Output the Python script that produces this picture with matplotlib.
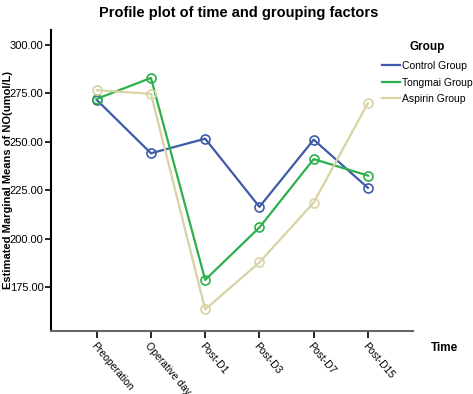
import matplotlib.pyplot as plt
from matplotlib.lines import Line2D

plt.rcParams['font.family'] = ['Liberation Sans', 'DejaVu Sans']

times = ["Preoperation", "Operative day", "Post-D1", "Post-D3", "Post-D7", "Post-D15"]
groups = ["Control Group", "Tongmai Group", "Aspirin Group"]
control = [271.5, 244.0, 251.5, 216.4, 251.0, 226.2]
tongmai = [272.0, 282.8, 178.8, 205.8, 241.0, 232.5]
aspirin = [276.5, 274.6, 163.6, 187.8, 218.6, 269.8]
colors = ["#3f5aa8", "#2db04b", "#d8d2a4"]
yticks = [175, 200, 225, 250, 275, 300]

fig = plt.figure(figsize=(4.73, 3.94), dpi=100)
ax = fig.add_axes([0.107, 0.16, 0.766, 0.764])

x = list(range(len(times)))
handles = []
for vals, name, c in zip([control, tongmai, aspirin], groups, colors):
    ax.plot(x, vals, color=c, lw=1.6, marker="o", ms=6.5, mfc="none", mec=c, mew=1.2)
    handles.append(Line2D([], [], color=c, lw=1.6))

ax.set_xlim(-0.85, 5.83)
ax.set_ylim(152.5, 307.5)
ax.set_yticks(yticks)
ax.set_yticklabels(["%.2f" % v for v in yticks], fontsize=8)
ax.set_xticks(x)
ax.set_xticklabels(times, fontsize=7.5, rotation=-50, ha="left", va="top", rotation_mode="anchor")
ax.tick_params(axis="y", direction="out", length=4, width=1.2, pad=1)
ax.tick_params(axis="x", direction="out", length=5, width=1.2, pad=2)
for s in ["top", "right"]:
    ax.spines[s].set_visible(False)
ax.spines["left"].set_linewidth(1.5)
ax.spines["bottom"].set_linewidth(1.5)
ax.spines["bottom"].set_color("#666666")

ax.set_ylabel("Estimated Marginal Means of NO(umol/L)", fontsize=8, fontweight="bold", va="center")
ax.yaxis.set_label_coords(-0.118, 0.5)
fig.text(0.505, 0.968, "Profile plot of time and grouping factors", ha="center", va="center",
         fontsize=10.5, fontweight="bold")
fig.text(0.91, 0.118, "Time", ha="left", va="center", fontsize=8.5, fontweight="bold")

leg = ax.legend(handles, groups, loc="upper left", bbox_to_anchor=(0.904, 0.978), frameon=False,
                fontsize=7.5, title="Group", handlelength=1.7, handletextpad=0.15,
                labelspacing=0.62, borderaxespad=0)
leg.get_title().set_fontweight("bold")
leg.get_title().set_fontsize(8.5)
leg._legend_box.align = "center"
leg._legend_box.sep = 6

fig.savefig("out.png", dpi=100)
